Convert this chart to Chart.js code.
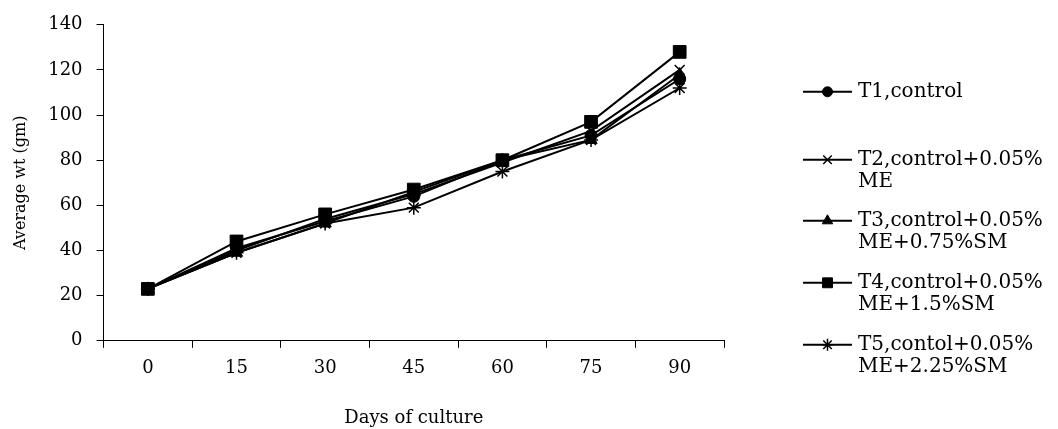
<!DOCTYPE html>
<html>
<head>
<meta charset="utf-8">
<script src="https://cdn.jsdelivr.net/npm/chart.js@4.4.0/dist/chart.umd.min.js"></script>
<style>
  html, body { margin: 0; padding: 0; background: #fff; }
  #wrap { width: 1058px; height: 429px; }
</style>
</head>
<body>
<div id="wrap"><canvas id="myChart" width="1058" height="429"></canvas></div>
<script>
// days of culture
const days = ['0', '15', '30', '45', '60', '75', '90'];

// average weight (gm)
const t1 = [23, 41, 53, 64, 80, 91, 116];
const t2 = [23, 40, 54, 65, 79, 93, 120];
const t3 = [23, 39, 52, 66, 80, 89, 118];
const t4 = [23, 44, 56, 67, 80, 97, 128];
const t5 = [23, 39, 52, 59, 75, 89, 112];

const seriesNames = [
  ['T1,control'],
  ['T2,control+0.05%', 'ME'],
  ['T3,control+0.05%', 'ME+0.75%SM'],
  ['T4,control+0.05%', 'ME+1.5%SM'],
  ['T5,contol+0.05%', 'ME+2.25%SM']
];

const yTicks = [0, 20, 40, 60, 80, 100, 120, 140];

const serif = "'DejaVu Serif', 'Liberation Serif', serif";

function mkSet(label, data, style, r, bw) {
  return {
    label: label,
    data: data,
    borderColor: '#000',
    backgroundColor: '#000',
    borderWidth: 2,
    pointStyle: style,
    pointRadius: r,
    pointBorderWidth: bw,
    pointBackgroundColor: '#000',
    pointBorderColor: '#000',
    tension: 0
  };
}

// legend drawn at the right side, like the original
const sideLegend = {
  id: 'sideLegend',
  afterDraw(chart) {
    const ctx = chart.ctx;
    const a = chart.chartArea;
    const x0 = a.right + 79, x1 = a.right + 128, xt = a.right + 134;
    const offs = [67, 135, 196, 258, 320];
    const markR = [5, 6, 6, 7, 6];
    ctx.save();
    chart.data.datasets.forEach((ds, i) => {
      const y = a.top + offs[i];
      ctx.strokeStyle = '#000';
      ctx.fillStyle = '#000';
      ctx.lineWidth = 2;
      ctx.beginPath();
      ctx.moveTo(x0, y);
      ctx.lineTo(x1, y);
      ctx.stroke();
      ctx.lineWidth = ds.pointBorderWidth;
      Chart.helpers.drawPoint(ctx, {
        pointStyle: ds.pointStyle, radius: markR[i], rotation: 0, borderWidth: ds.pointBorderWidth
      }, (x0 + x1) / 2, y);
      ctx.font = '20px ' + serif;
      ctx.textBaseline = 'middle';
      ctx.textAlign = 'left';
      seriesNames[i].forEach((line, k) => {
        ctx.fillText(line, xt, y + k * 22);
      });
    });
    ctx.restore();
  }
};

const ctx = document.getElementById('myChart');
new Chart(ctx, {
  type: 'line',
  data: {
    labels: days,
    datasets: [
      mkSet(seriesNames[0].join(' '), t1, 'circle', 6, 1),
      mkSet(seriesNames[1].join(' '), t2, 'crossRot', 7, 1.5),
      mkSet(seriesNames[2].join(' '), t3, 'triangle', 7, 1),
      mkSet(seriesNames[3].join(' '), t4, 'rect', 9, 1),
      mkSet(seriesNames[4].join(' '), t5, 'star', 7, 1.5)
    ]
  },
  options: {
    responsive: false,
    animation: false,
    layout: { padding: { left: 11, right: 334, top: 5, bottom: 0 } },
    plugins: {
      legend: { display: false },
      tooltip: { enabled: false }
    },
    scales: {
      x: {
        type: 'category',
        offset: true,
        grid: { display: true, offset: true, drawOnChartArea: false, drawTicks: true, tickLength: 7, color: '#000' },
        border: { color: '#000', width: 1 },
        ticks: { color: '#000', font: { family: serif, size: 18 }, padding: 10, maxRotation: 0 },
        title: { display: true, text: 'Days of culture', color: '#000', font: { family: serif, size: 18 }, padding: { top: 18, bottom: 0 } }
      },
      y: {
        min: 0,
        max: 140,
        afterBuildTicks(scale) { scale.ticks = yTicks.map(v => ({ value: v })); },
        grid: { display: true, drawOnChartArea: false, drawTicks: true, tickLength: 7, color: '#000' },
        border: { color: '#000', width: 1 },
        ticks: { color: '#000', font: { family: serif, size: 18 }, padding: 14 },
        title: { display: true, text: 'Average wt (gm)', color: '#000', font: { family: serif, size: 16 }, padding: { top: 0, bottom: 4 } }
      }
    }
  },
  plugins: [sideLegend]
});
</script>
</body>
</html>
